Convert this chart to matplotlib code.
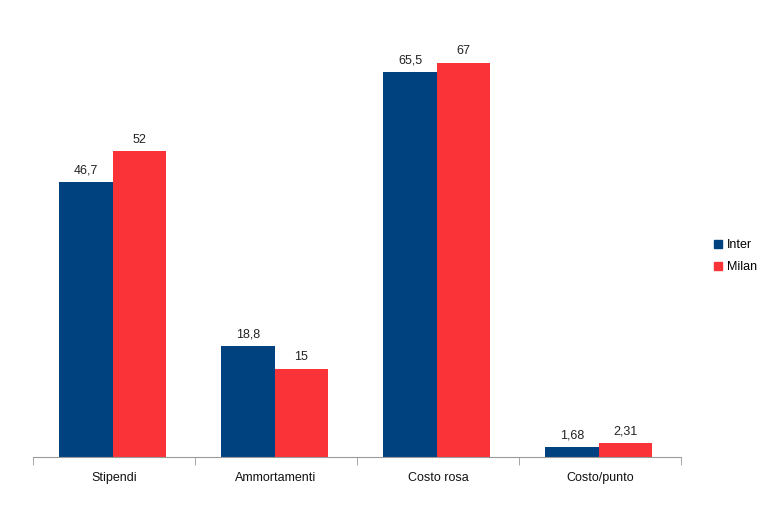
import matplotlib
matplotlib.use("Agg")
import matplotlib.pyplot as plt
import numpy as np
from matplotlib.lines import Line2D

categories = ["Stipendi", "Ammortamenti", "Costo rosa", "Costo/punto"]
inter = [46.7, 18.8, 65.5, 1.68]
milan = [52, 15, 67, 2.31]
inter_labels = ["46,7", "18,8", "65,5", "1,68"]
milan_labels = ["52", "15", "67", "2,31"]

plt.rcParams['font.family'] = ['Liberation Sans', 'DejaVu Sans']

fig = plt.figure(figsize=(7.67, 5.11), dpi=100)
ax = fig.add_axes([33/767, 1-457/511, (681-33)/767, (457-16)/511])

blue = "#00427f"
red = "#f93338"
x = np.arange(len(categories))
w = 0.33
b1 = ax.bar(x - w/2 - 0.008, inter, w, color=blue)
b2 = ax.bar(x + w/2 - 0.008, milan, w, color=red)
for bars, labs in ((b1, inter_labels), (b2, milan_labels)):
    for bar, lab in zip(bars, labs):
        ax.annotate(lab, (bar.get_x() + bar.get_width()/2, bar.get_height()),
                    xytext=(0, 4), textcoords="offset points",
                    ha="center", va="bottom", fontsize=9, color="#222222")

ax.set_xlim(-0.5, len(categories) - 0.5)
ax.set_ylim(0, 75)
for s in ("top", "right", "left"):
    ax.spines[s].set_visible(False)
ax.spines["bottom"].set_color("#9a9a9a")
ax.set_yticks([])
ax.set_xticks(x)
ax.set_xticklabels(categories, fontsize=9, color="#111111")
ax.tick_params(axis="x", which="major", length=0, pad=11)
ax.set_xticks(np.arange(-0.5, len(categories)), minor=True)
ax.tick_params(axis="x", which="minor", length=6, color="#9a9a9a", direction="out")

handles = [Line2D([], [], marker="s", linestyle="", markersize=6, color=blue),
           Line2D([], [], marker="s", linestyle="", markersize=6, color=red)]
fig.legend(handles, ["Inter", "Milan"], loc="center left",
           bbox_to_anchor=(702/767, 1-256/511), frameon=False, fontsize=9,
           handlelength=0.8, handletextpad=0.3, labelspacing=0.8)

fig.savefig("out.png", dpi=100)
